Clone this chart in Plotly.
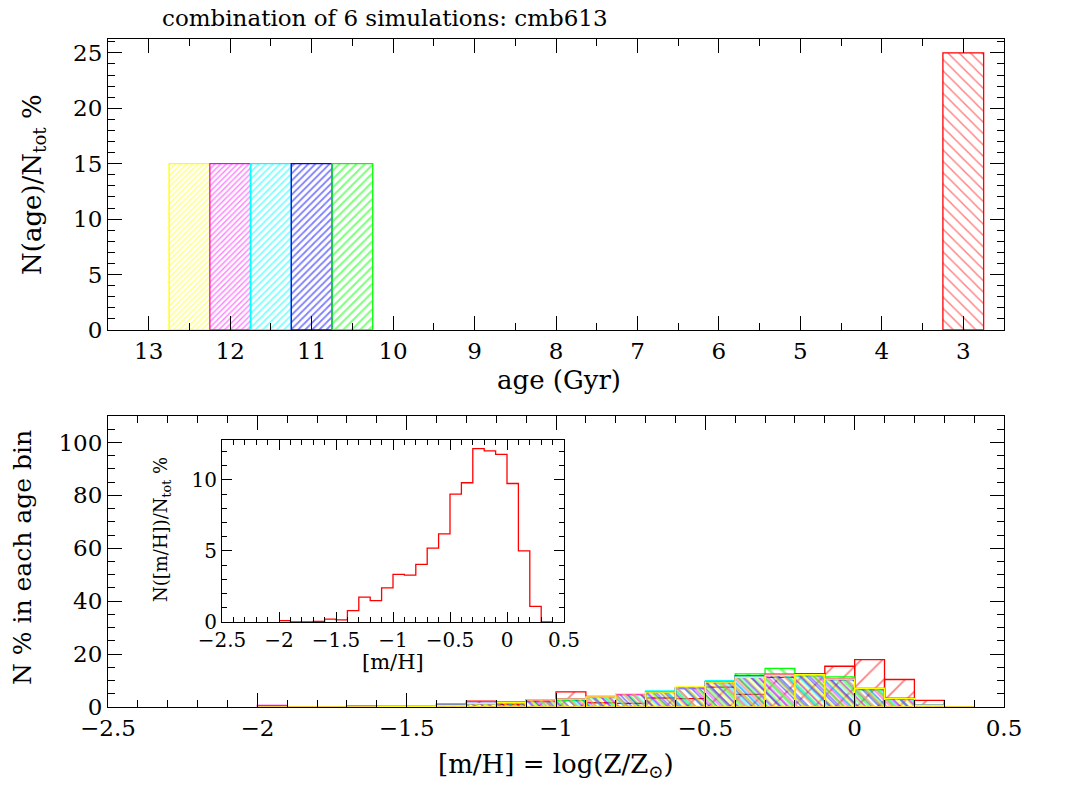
import plotly.graph_objects as go

# ── Data ──────────────────────────────────────────────────────────────────────

ages = [12.5, 12.0, 11.5, 11.0, 10.5, 3.0]
age_pct = [15, 15, 15, 15, 15, 25]
age_colors = ["#ffff00", "#ff00ff", "#00ffff", "#0000ff", "#00ff00", "#ff0000"]

# left edges of the 0.1 dex [m/H] bins
mh_left = [-2.0, -1.9, -1.8, -1.7, -1.6, -1.5, -1.4, -1.3, -1.2, -1.1, -1.0, -0.9,
           -0.8, -0.7, -0.6, -0.5, -0.4, -0.3, -0.2, -0.1, 0.0, 0.1, 0.2, 0.3]

# N % in each age bin, per [m/H] bin
mh_12p5 = [0, 0, 0, 0, 0.3, 0.3, 0.6, 1.3, 1.7, 2.7, 3.0, 3.8,
           5.05, 5.6, 7.6, 9.4, 11.2, 12.0, 12.2, 10.5, 7.0, 3.2, 0.6, 0]
mh_12p0 = [0.6, 0, 0, 0, 0.2, 0.2, 0.6, 1.3, 1.9, 2.4, 3.1, 4.05,
           4.8, 5.8, 7.2, 9.5, 11.2, 12.3, 12.4, 10.6, 7.0, 3.3, 0.6, 0]
mh_11p5 = [0, 0, 0, 0, 0.2, 0.3, 0.7, 1.3, 1.6, 2.6, 3.2, 3.8,
           4.9, 6.05, 7.0, 10.0, 11.6, 12.4, 12.2, 10.6, 7.0, 3.2, 0.7, 0]
mh_11p0 = [0, 0, 0, 0.3, 0.2, 0.2, 0.8, 1.4, 1.7, 2.8, 3.0, 3.9,
           4.8, 5.8, 7.2, 9.6, 11.8, 12.3, 12.4, 10.4, 6.8, 3.0, 0.6, 0]
mh_10p5 = [0, 0, 0, 0, 0.2, 0.2, 0.6, 1.2, 1.5, 2.2, 2.4, 3.6,
           4.6, 5.5, 7.0, 9.2, 12.5, 14.6, 11.8, 11.4, 6.5, 3.2, 0.6, 0]
mh_3p0 = [0, 0, 0, 0, 0.2, 0, 1.1, 2.2, 0.9, 2.0, 5.7, 1.6,
          1.4, 3.4, 3.2, 7.5, 4.8, 11.2, 12.5, 15.4, 17.9, 10.4, 2.5, 0]

# total N([m/H])/Ntot % (inset)
mh_total = [0.1, 0, 0, 0.05, 0.2, 0.15, 0.8, 1.75, 1.5, 2.4, 3.35, 3.3,
            4.05, 5.2, 6.2, 9.0, 9.8, 12.2, 12.05, 11.8, 9.75, 5.0, 1.1, 0]
mh_right_edge = 0.4

mh_series = [mh_12p5, mh_12p0, mh_11p5, mh_11p0, mh_10p5, mh_3p0]

FONT = "DejaVu Serif"
CLEAR = "rgba(0,0,0,0)"
W, H = 1067, 797
PAGE_PAD = 8  # body margin of the html page


def px_x(x):
    return (x - PAGE_PAD) / W


def px_y(y):
    return 1 - (y - PAGE_PAD) / H


def hatch(col, shape, size, solidity):
    return dict(color=CLEAR, line=dict(color=col, width=1.3),
                pattern=dict(shape=shape, size=size, solidity=solidity,
                             fgcolor=col, bgcolor=CLEAR, fillmode="overlay"))


fig = go.Figure()

# ── Top panel: age histogram ──────────────────────────────────────────────────

top_sizes = [4, 4, 5, 5, 6, 8]
for age, pct, col, sz in zip(ages, age_pct, age_colors, top_sizes):
    young = age < 5
    fig.add_trace(go.Bar(
        x=[age], y=[pct], width=0.5,
        marker=hatch(col, "\\" if young else "/", sz, 0.18 if young else 0.35),
        xaxis="x", yaxis="y", showlegend=False,
    ))

# ── Bottom panel: [m/H] distribution for each age ─────────────────────────────

bottom_sizes = [7, 6, 8, 5, 9, 15]
for i in [5, 4, 3, 2, 1, 0]:
    col = age_colors[i]
    young = ages[i] < 5
    fig.add_trace(go.Bar(
        x=mh_left, y=mh_series[i], width=0.1, offset=0,
        marker=hatch(col, "/" if young else "\\", bottom_sizes[i],
                     0.12 if young else 0.3),
        xaxis="x2", yaxis="y2", showlegend=False,
    ))

# ── Inset: combined [m/H] distribution ───────────────────────────────────────

fig.add_trace(go.Scatter(
    x=mh_left + [mh_right_edge], y=mh_total + [mh_total[-1]],
    mode="lines", line=dict(color="#ff0000", width=1.3, shape="hv"),
    xaxis="x3", yaxis="y3", showlegend=False,
))

axis_common = dict(
    showline=True, linecolor="black", linewidth=1.2, mirror="ticks",
    ticks="inside", tickcolor="black", tickwidth=1, showgrid=False,
    zeroline=False, automargin=False,
    tickfont=dict(family=FONT, size=23, color="black"),
)
small_tick = dict(family=FONT, size=20, color="black")

fig.update_layout(
    width=W, height=H,
    margin=dict(l=0, r=0, t=0, b=0),
    paper_bgcolor="white", plot_bgcolor="white",
    barmode="overlay",
    font=dict(family=FONT, color="black"),
    xaxis=dict(axis_common, domain=[px_x(108), px_x(1004)], anchor="y",
               range=[13.5, 2.5], dtick=1, tick0=3, ticklen=14,
               minor=dict(dtick=0.5, ticklen=7, ticks="inside", tickcolor="black")),
    yaxis=dict(axis_common, domain=[px_y(330), px_y(39)], anchor="x",
               range=[0, 26.25], dtick=5, ticklen=14,
               minor=dict(dtick=1, ticklen=7, ticks="inside", tickcolor="black")),
    xaxis2=dict(axis_common, domain=[px_x(108), px_x(1004)], anchor="y2",
                range=[-2.5, 0.5], dtick=0.5, tick0=-2.5, ticklen=14,
                minor=dict(dtick=0.1, ticklen=7, ticks="inside", tickcolor="black")),
    yaxis2=dict(axis_common, domain=[px_y(707), px_y(416)], anchor="x2",
                range=[0, 110], dtick=20, ticklen=14,
                minor=dict(dtick=5, ticklen=7, ticks="inside", tickcolor="black")),
    xaxis3=dict(axis_common, domain=[px_x(222), px_x(564)], anchor="y3",
                range=[-2.5, 0.5], dtick=0.5, tick0=-2.5, ticklen=10,
                tickfont=small_tick,
                minor=dict(dtick=0.1, ticklen=5, ticks="inside", tickcolor="black")),
    yaxis3=dict(axis_common, domain=[px_y(622), px_y(440)], anchor="x3",
                range=[0, 12.81], dtick=5, ticklen=10,
                tickfont=small_tick,
                minor=dict(dtick=1, ticklen=5, ticks="inside", tickcolor="black")),
)


def label(x, y, text, size=26, angle=0):
    fig.add_annotation(
        xref="paper", yref="paper", x=px_x(x), y=px_y(y),
        xanchor="center", yanchor="middle", showarrow=False, textangle=angle,
        text=text, font=dict(family=FONT, size=size, color="black"),
    )


label(385, 18, "combination of 6 simulations: cmb613", size=23)
label(559, 380, "age (Gyr)")
label(34, 185, "N(age)/N<sub>tot</sub> %", angle=-90)
label(22, 558, "N % in each age bin", size=25, angle=-90)
label(556, 765, "[m/H] = log(Z/Z<sub>⊙</sub>)")
label(393, 662, "[m/H]", size=21)
label(162, 530, "N([m/H])/N<sub>tot</sub> %", size=18, angle=-90)

fig.write_html("out.html")
